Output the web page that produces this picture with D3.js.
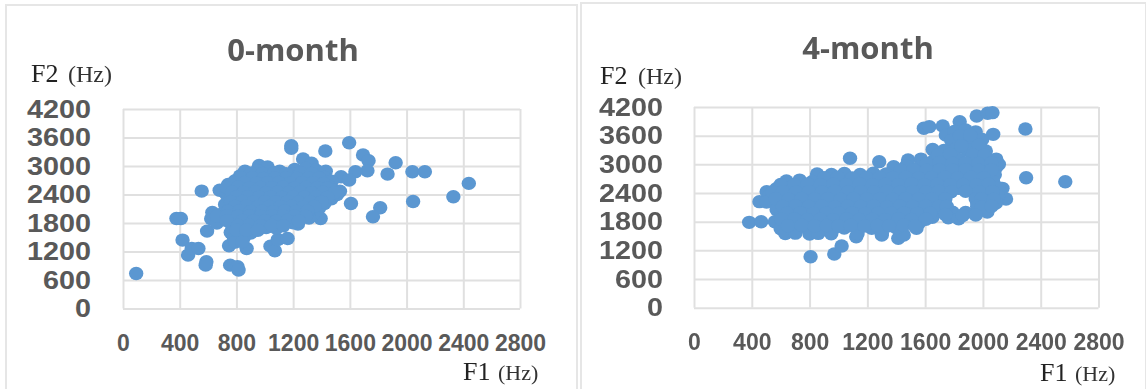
<!DOCTYPE html>
<html><head><meta charset="utf-8">
<script src="https://cdnjs.cloudflare.com/ajax/libs/d3/7.8.5/d3.min.js"></script>
<style>html,body{margin:0;background:#fff}svg{display:block;filter:blur(.45px)}</style></head>
<body><svg id="c" width="1146" height="389"></svg>
<script>
const xTicks=[0,400,800,1200,1600,2000,2400,2800];
const yTicks=[0,600,1200,1800,2400,3000,3600,4200];
const titles=["0-month","4-month"];
const month0=[[93,737],[377,1896],[408,1896],[420,1440],[459,1124],[485,1264],[532,1264],[588,983],[583,913],[593,1629],[555,2472],[756,913],[808,878],[815,808],[748,1320],[872,1264],[1040,1313],[1071,1215],[1092,1454],[1161,1475],[1394,1896],[1234,1777],[1595,3490],[1187,3427],[1187,3371],[1427,3315],[1693,3231],[1732,3111],[1724,2900],[1923,3069],[1866,2830],[2041,2880],[2129,2880],[2439,2634],[2330,2353],[2046,2254],[1608,2212],[1814,2121],[1763,1931],[1639,2880],[1538,2774],[1595,2704],
[960,3010],[1020,2980],[1270,3150],[1330,3060],[860,2890],[945,2905],[1025,2870],[1105,2890],[1212,2930],[1290,2950],[1362,2910],[1430,2890],[825,2790],[900,2810],[985,2780],[1062,2760],[1130,2805],[1200,2830],[1282,2790],[1350,2815],[1420,2760],[790,2690],[872,2710],[950,2680],[1033,2700],[1110,2670],[1192,2705],[1268,2680],[1341,2695],[1418,2660],[1472,2680],[742,2610],[820,2585],[903,2620],[982,2590],[1060,2615],[1142,2585],[1220,2605],[1300,2590],[1381,2610],[1452,2570],[682,2490],[771,2510],[850,2480],[930,2515],[1012,2490],[1090,2510],[1171,2485],[1250,2505],[1332,2480],[1402,2500],[1483,2490],[1530,2470],[730,2400],[812,2385],[890,2415],[972,2390],[1050,2410],[1133,2380],[1210,2405],[1291,2395],[1372,2410],[1440,2380],[1510,2400],[760,2300],[842,2320],[920,2285],[1003,2310],[1080,2290],[1160,2315],[1242,2285],[1320,2310],[1401,2290],[1470,2310],[720,2190],[803,2210],[880,2195],[961,2215],[1042,2185],[1120,2205],[1203,2190],[1280,2215],[1361,2190],[1420,2210],[752,2090],[831,2110],[910,2080],[990,2105],[1071,2090],[1152,2110],[1230,2085],[1312,2100],[1382,2110],[630,2020],[702,2000],[791,2015],[870,1990],[950,2010],[1032,1985],[1110,2005],[1190,1995],[1271,2015],[1342,1990],[622,1890],[693,1910],[771,1895],[850,1905],[931,1885],[1010,1900],[1091,1890],[1172,1910],[1250,1890],[1312,1905],[662,1800],[802,1790],[881,1810],[960,1785],[1042,1800],[1122,1790],[1200,1805],[772,1700],[851,1710],[932,1690],[1010,1705],[1082,1690],[760,1600],[832,1610],[901,1590],[782,1500],[851,1490],[792,1400],[841,1410],
[902,2850],[985,2845],[1066,2860],[1150,2840],[1252,2855],[1331,2845],[832,2750],[911,2755],[992,2740],[1071,2750],[1150,2755],[1231,2740],[1310,2750],[1382,2745],[781,2650],[860,2655],[942,2640],[1021,2650],[1100,2655],[1181,2640],[1262,2650],[1340,2645],[1415,2635],[732,2550],[810,2555],[891,2540],[970,2550],[1052,2545],[1130,2555],[1211,2540],[1290,2550],[1371,2545],[1440,2535],[770,2450],[852,2445],[931,2455],[1010,2440],[1091,2450],[1170,2445],[1251,2455],[1330,2440],[1411,2450],[1490,2440],[801,2350],[880,2355],[962,2345],[1040,2350],[1122,2340],[1201,2355],[1280,2345],[1361,2350],[1441,2340],[762,2250],[841,2255],[920,2240],[1001,2250],[1080,2245],[1162,2255],[1240,2240],[1321,2250],[1400,2245],[791,2150],[870,2155],[952,2140],[1030,2150],[1111,2145],[1190,2155],[1272,2140],[1350,2150],[741,2050],[822,2055],[900,2045],[981,2050],[1061,2040],[1140,2055],[1222,2045],[1300,2050],[662,1950],[731,1955],[812,1945],[890,1950],[972,1940],[1050,1955],[1131,1945],[1211,1950],[1290,1940],[731,1850],[841,1855],[920,1845],[1002,1850],[1081,1840],[1160,1855],[1240,1845],[812,1750],[890,1755],[971,1745],[1050,1750],[1131,1740],[801,1650],[870,1655],[951,1645]];
const month4=[[807,1067],[971,1123],[1022,1291],[1414,1451],[1452,1521],[1123,1486],[1300,1521],[1540,1660],[382,1786],[465,1800],[453,2219],[503,2428],[1080,3126],[1282,3056],[1591,3754],[1629,3789],[1722,3802],[1743,3614],[1839,3893],[1957,4012],[2033,4068],[2066,4082],[2071,3628],[2294,3740],[2299,2721],[2570,2637],[2160,2275],[2135,2498],
[1802,3690],[1880,3720],[1950,3680],[1781,3500],[1862,3510],[1940,3490],[1995,3520],[1652,3310],[1730,3290],[1812,3320],[1890,3300],[1962,3315],[2020,3280],[1482,3090],[1571,3110],[1660,3080],[1750,3120],[1840,3090],[1930,3110],[2020,3080],[2092,3110],[2110,3000],[1382,2950],[1470,2970],[1560,2940],[1650,2960],[1741,2930],[1830,2960],[1920,2940],[2012,2965],[2090,2930],[852,2800],[951,2790],[1041,2810],[1150,2790],[1241,2815],[1330,2800],[1420,2785],[1511,2810],[1602,2790],[1690,2815],[1782,2790],[1871,2805],[1960,2790],[2050,2810],[2082,2780],[640,2650],[731,2670],[820,2640],[911,2660],[1000,2645],[1090,2665],[1182,2640],[1270,2660],[1361,2650],[1450,2670],[1540,2640],[1632,2660],[1720,2640],[1811,2665],[1900,2645],[1991,2660],[2070,2640],[570,2490],[660,2510],[750,2490],[842,2505],[930,2485],[1020,2510],[1110,2490],[1200,2505],[1291,2485],[1380,2510],[1470,2490],[1560,2510],[1650,2490],[1741,2505],[1832,2500],[1920,2490],[2010,2510],[2060,2490],[2110,2505],[522,2350],[612,2340],[702,2365],[790,2345],[880,2360],[972,2340],[1060,2365],[1150,2345],[1240,2360],[1330,2340],[1421,2365],[1510,2345],[1600,2360],[1690,2340],[1735,2360],[1960,2350],[2040,2360],[2105,2340],[502,2210],[592,2190],[680,2215],[772,2195],[860,2210],[950,2190],[1040,2215],[1132,2195],[1222,2210],[1312,2190],[1400,2215],[1492,2195],[1580,2210],[1670,2190],[1735,2210],[1960,2200],[2040,2210],[2090,2190],[572,2050],[662,2070],[752,2040],[841,2060],[930,2045],[1020,2065],[1112,2040],[1200,2060],[1290,2045],[1382,2065],[1470,2040],[1560,2060],[1650,2045],[1702,2010],[1790,2000],[1880,1995],[1960,2015],[2030,2000],[602,1900],[692,1915],[782,1895],[870,1910],[962,1890],[1050,1915],[1142,1895],[1232,1910],[1322,1890],[1412,1915],[1500,1895],[1590,1910],[1650,1890],[1760,1880],[1832,1860],[560,1800],[650,1780],[742,1800],[830,1785],[922,1805],[1012,1780],[1100,1800],[1192,1785],[1282,1805],[1372,1780],[1460,1800],[1560,1785],[600,1650],[700,1665],[790,1640],[880,1660],[962,1645],[1040,1665],[1130,1640],[1230,1660],[1300,1650],[1402,1665],[632,1550],[702,1560],[800,1540],[860,1555],[950,1545],[1132,1550],[1300,1560],
[1841,3600],[1912,3610],[1972,3400],[1690,3200],[1772,3210],[1850,3390],[1930,3200],[2010,3190],[1610,3020],[1700,3040],[1790,3025],[1880,3030],[1970,3020],[2060,3030],[1430,2880],[1520,2890],[1610,2875],[1700,2885],[1790,2880],[1880,2890],[1970,2875],[2060,2885],[900,2720],[995,2730],[1095,2715],[1195,2725],[1285,2730],[1375,2720],[1465,2730],[1555,2715],[1645,2725],[1735,2730],[1825,2715],[1915,2730],[2005,2720],[600,2580],[695,2575],[785,2590],[875,2570],[965,2585],[1055,2575],[1145,2590],[1235,2570],[1325,2585],[1415,2575],[1505,2590],[1595,2570],[1685,2585],[1775,2575],[1865,2580],[1955,2570],[2040,2585],[545,2420],[615,2430],[705,2415],[795,2430],[885,2420],[975,2435],[1065,2415],[1155,2430],[1245,2420],[1335,2435],[1425,2415],[1515,2430],[1605,2420],[1695,2435],[1780,2425],[1880,2435],[1975,2425],[2065,2430],[565,2280],[655,2270],[745,2285],[835,2275],[925,2280],[1015,2270],[1105,2285],[1195,2275],[1285,2280],[1375,2270],[1465,2285],[1555,2275],[1645,2280],[1740,2280],[1950,2280],[1990,2280],[2075,2270],[615,2120],[705,2135],[795,2120],[885,2130],[975,2115],[1065,2130],[1155,2120],[1245,2135],[1335,2115],[1425,2130],[1515,2120],[1605,2135],[1695,2120],[1750,2120],[1960,2120],[1990,2110],[2060,2125],[645,1975],[735,1985],[825,1970],[915,1980],[1005,1975],[1095,1985],[1185,1970],[1275,1980],[1365,1975],[1455,1985],[1545,1970],[1635,1980],[1740,1950],[1860,1930],[1950,1940],[605,1850],[695,1855],[785,1845],[875,1850],[965,1840],[1055,1855],[1145,1845],[1235,1850],[1325,1840],[1415,1855],[1505,1845],[1605,1850],[650,1715],[745,1725],[835,1710],[920,1720],[1000,1715],[1085,1725],[1180,1710],[1270,1720],[1350,1715],[1450,1725],[1530,1710]];
const panels=[
 {data:month0,x0:123,x1:520,y0:308.5,y1:109,bx:6,by:5,bw:571,title:[293,61],f2:[31,82],f1:[463,380],hz2:68,hz1:498,padY:32},
 {data:month4,x0:694,x1:1098.5,y0:307.7,y1:107,bx:581,by:3,bw:565,title:[868,59],f2:[600,84],f1:[1040,381],hz2:638,hz1:1075,padY:31}
];
const svg=d3.select("#c");
panels.forEach((p,i)=>{
 const g=svg.append("g");
 g.append("rect").attr("x",p.bx).attr("y",p.by).attr("width",p.bw).attr("height",400).attr("fill","#fff").attr("stroke","#e6e6e6").attr("stroke-width",2);
 const x=d3.scaleLinear().domain([0,2800]).range([p.x0,p.x1]);
 const y=d3.scaleLinear().domain([0,4200]).range([p.y0,p.y1]);
 const ax=g.append("g").attr("transform",`translate(0,${p.y0})`).call(d3.axisBottom(x).tickValues(xTicks).tickSize(p.y1-p.y0).tickFormat(d3.format("d")));
 const ay=g.append("g").attr("transform",`translate(${p.x0},0)`).call(d3.axisLeft(y).tickValues(yTicks).tickSize(p.x0-p.x1).tickFormat(d3.format("d")));
 [ax,ay].forEach(a=>{a.select(".domain").remove();a.selectAll("line").attr("stroke","#e0e0e0").attr("stroke-width",2);
   a.selectAll("text").attr("fill","#595959").attr("font-family","'Liberation Sans'").attr("font-weight","bold");});
 ax.selectAll("text").attr("font-size",23).attr("dy",0).attr("y",42);
 ay.selectAll("text").attr("font-size",25).attr("dy","0.32em").attr("x",-p.padY).attr("text-anchor","end")
   .attr("textLength",d=>String(d).length*16).attr("lengthAdjust","spacingAndGlyphs");
 g.append("g").selectAll("ellipse").data(p.data).join("ellipse").attr("cx",d=>x(d[0])).attr("cy",d=>y(d[1])).attr("rx",7.2).attr("ry",6.7).attr("fill","#5b97d1");
 g.append("text").attr("x",p.title[0]).attr("y",p.title[1]).attr("text-anchor","middle").attr("font-family","'Open Sans'").attr("font-weight",700).attr("font-size",31).attr("fill","#595959").text(titles[i]);
 [["F2",p.f2,p.hz2,24],["F1",p.f1,p.hz1,22]].forEach(([t,pos,hx,hs])=>{
   g.append("text").attr("x",pos[0]).attr("y",pos[1]).attr("font-family","'Liberation Serif'").attr("font-size",26).attr("fill","#222").text(t);
   g.append("text").attr("x",hx).attr("y",pos[1]).attr("font-family","'Liberation Serif'").attr("font-size",hs).attr("fill","#333").text("(Hz)");
 });
});
</script></body></html>
